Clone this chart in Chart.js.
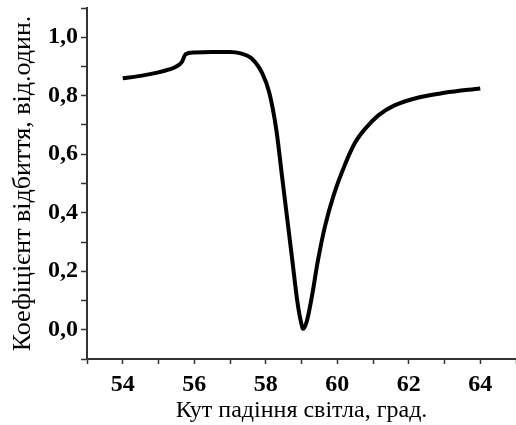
<!DOCTYPE html>
<html>
<head>
<meta charset="utf-8">
<script src="https://cdn.jsdelivr.net/npm/chart.js@4"></script>
<style>
  html, body { margin: 0; padding: 0; background: #fff; overflow: hidden; }
  #wrap { width: 522px; height: 425px; }
</style>
</head>
<body>
<div id="wrap"><canvas id="chart"></canvas></div>
<script>
const angles = [54, 54.5, 55, 55.3, 55.5, 55.65, 55.76, 56, 56.5, 57, 57.3, 57.6, 57.9, 58.1, 58.3, 58.45, 58.6, 58.75, 58.88, 58.97, 59.05, 59.15, 59.3, 59.45, 59.65, 59.9, 60.2, 60.5, 60.8, 61.15, 61.6, 62.3, 63, 64];
const reflectance = [0.86, 0.868, 0.88, 0.89, 0.9, 0.915, 0.942, 0.948, 0.95, 0.95, 0.945, 0.928, 0.877, 0.81, 0.68, 0.53, 0.38, 0.23, 0.1, 0.035, 0.003, 0.03, 0.12, 0.23, 0.35, 0.46, 0.56, 0.64, 0.69, 0.733, 0.767, 0.795, 0.81, 0.825];
const xLabels = [54, 56, 58, 60, 62, 64];
const yLabels = [0, 0.2, 0.4, 0.6, 0.8, 1.0];
const xTitle = "Кут падіння світла, град.";
const yTitle = "Коефіцієнт відбиття, від.один.";

const serif = "'Liberation Serif', 'Times New Roman', serif";
const axisColor = "#333";

const points = angles.map((a, i) => ({ x: a, y: reflectance[i] }));
const isYLabel = v => yLabels.some(l => Math.abs(l - v) < 1e-6);

new Chart(document.getElementById("chart"), {
    type: "line",
    data: {
        datasets: [{
            data: points,
            borderColor: "#000",
            borderWidth: 4,
            pointRadius: 0,
            fill: false,
            cubicInterpolationMode: "monotone"
        }]
    },
    options: {
        responsive: true,
        maintainAspectRatio: false,
        animation: false,
        layout: { padding: { top: 8, right: 0, left: 0, bottom: 0 } },
        plugins: { legend: { display: false }, tooltip: { enabled: false } },
        scales: {
            x: {
                type: "linear",
                min: 53,
                max: 65,
                afterFit: s => { s.height = 66; },
                border: { color: axisColor, width: 2 },
                grid: { drawOnChartArea: false, drawTicks: true, tickLength: 5, color: axisColor, tickWidth: 1.5 },
                ticks: {
                    stepSize: 1,
                    autoSkip: false,
                    maxRotation: 0,
                    padding: 6,
                    color: "#000",
                    font: { family: serif, size: 24, weight: "bold" },
                    callback: v => xLabels.includes(v) ? String(v) : ""
                },
                title: {
                    display: true,
                    text: xTitle,
                    color: "#000",
                    padding: { top: 0, bottom: 0 },
                    font: { family: serif, size: 24 }
                }
            },
            y: {
                min: -0.1,
                max: 1.1,
                afterFit: s => { s.width = 87; },
                border: { color: axisColor, width: 2 },
                grid: { drawOnChartArea: false, drawTicks: true, tickLength: 6, color: axisColor, tickWidth: 1.5 },
                ticks: {
                    stepSize: 0.1,
                    autoSkip: false,
                    padding: 3,
                    color: "#000",
                    font: ctx => ({
                        family: serif,
                        weight: "bold",
                        size: ctx.tick && isYLabel(Math.round(ctx.tick.value * 10) / 10) ? 24 : 1
                    }),
                    callback: v => {
                        const r = Math.round(v * 10) / 10;
                        return isYLabel(r) ? r.toFixed(1).replace(".", ",") : "";
                    }
                },
                title: {
                    display: true,
                    text: yTitle,
                    color: "#000",
                    padding: { top: 8, bottom: 0 },
                    font: { family: serif, size: 26 }
                }
            }
        }
    }
});
</script>
</body>
</html>
